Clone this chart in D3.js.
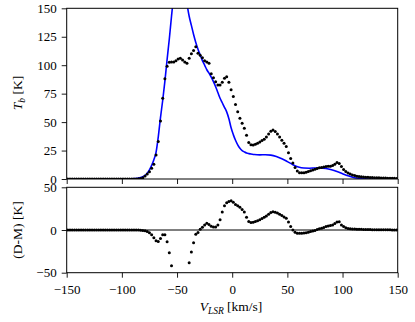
<!DOCTYPE html>
<html>
<head>
<meta charset="utf-8">
<script src="https://cdn.jsdelivr.net/npm/d3@7/dist/d3.min.js"></script>
<style>
  body { margin: 0; background: #fff; }
</style>
</head>
<body>
<div id="chart"></div>
<script>
// canais de velocidade (km/s)
const velocity = [
  -149,-147,-145,-143,-141,-139,-137,-135,-133,-131,
  -129,-127,-125,-123,-121,-119,-117,-115,-113,-111,
  -109,-107,-105,-103,-101,-99,-97,-95,-93,-91,
  -89,-87,-85,-83,-81,-79,-77,-75,-73,-71,
  -69,-67,-65,-63,-61,-59,-57,-55,-53,-51,
  -49,-47,-45,-43,-41,-39,-37,-35,-33,-31,
  -29,-27,-25,-23,-21,-19,-17,-15,-13,-11,
  -9,-7,-5,-3,-1,1,3,5,7,9,
  11,13,15,17,19,21,23,25,27,29,
  31,33,35,37,39,41,43,45,47,49,
  51,53,55,57,59,61,63,65,67,69,
  71,73,75,77,79,81,83,85,87,89,
  91,93,95,97,99,101,103,105,107,109,
  111,113,115,117,119,121,123,125,127,129,
  131,133,135,137,139,141,143,145,147,149
];

// temperatura de brilho observada (K)
const tbData = [
  0,0,0,0,0,0,0,0,0,0,
  0,0,0,0,0,0,0,0,0,0,
  0,0,0,0,0,0,0,0,0,0,
  0,0.1,0.2,0.4,1,2.6,4.5,6.4,9.5,13,
  21,33,51,71,88,99,102.5,102.8,102.8,104,
  105.5,106,104.5,102.8,101.7,106,110,113,116.2,110.4,
  108.8,106.5,104,102.8,101.7,92.5,89,85.5,82.5,82.5,
  85,88.5,89.8,85,78.5,72.5,65.5,59,53.3,49,
  44.5,38.5,32,30,29.9,30.5,31.5,32.5,33.8,35,
  37,39.5,42,43,41.8,39.5,37,34,31.5,28.5,
  23,18,14,10,7,5.6,5.4,5.5,5.9,6.5,
  7.2,7.9,8.5,9.2,9.8,10.2,10.6,10.9,11.1,11.3,
  11.8,13,14.5,13.6,11,8.3,6.6,5.3,4.3,3.6,
  3,2.5,2.1,1.9,1.7,1.6,1.5,1.4,1.3,1.2,
  1.1,1,0.9,0.8,0.8,0.7,0.7,0.6,0.6,0.5
];

// residuo dados - modelo (K)
const residual = [
  0,0,0,0,0,0,0,0,0,0,
  0,0,0,0,0,0,0,0,0,0,
  0,0,0,0,0,0,0,0,0,0,
  0,0,0,-0.2,-0.5,-0.9,-1.8,-3.2,-5.5,-9,
  -12.5,-13.5,-10,-5.5,-5.5,-13.7,-26.6,-42,-62,-72,
  -76,-75,-70,-62,-52,-38.3,-25.8,-15,-5,-3,
  0.8,3.2,5.8,7.8,6.5,4.5,3.5,3.4,6,12,
  21,28.5,32,33.3,34.3,32.5,30,28.5,26.5,24,
  21,15,10,8.8,9.2,10,10.9,12,13.5,14.8,
  16.5,18.5,20.5,21.4,20.8,19.8,18.5,17,15.3,13.7,
  9.5,4,0,-2.5,-3.9,-3.9,-3.9,-3.5,-3.1,-2.5,
  -1.8,-1.2,-0.5,0.5,1.4,2,3,4,4.7,5.3,
  5.9,7.5,9.3,9.7,6,4,2.5,1.7,1.4,1.2,
  1.1,1,0.9,0.8,0.7,0.6,0.5,0.5,0.4,0.4,
  0.3,0.3,0.3,0.2,0.2,0.2,0.2,0.1,0.1,0.1
];

// curva do modelo
const modelV = [-150,-110,-95,-88,-84,-81,-78,-75,-73,-71,-69,-67,-65,-63,-61,-59,-57,-55,-53,-51,-49,-47,-45,-43,-41,-39,-37,-35,-33,-31,-29,-27,-25,-23,-21,-19,-17,-15,-13,-11,-9,-7,-5,-3,-1,1,3,5,7,9,11,13,15,17,20,25,30,35,40,45,50,55,60,65,70,75,80,85,90,95,100,105,110,115,120,130,150];
const modelT = [0,0,0.1,0.4,1,2,4,8,12,17,23.5,37,54,69,86,105,123,143,161,174,181,182,177,167,154,143,135,127,120,114,109,104,100,96,93,89.5,85.5,81,76,71,67,63,59,53,45,39,34,30,27,25,23.8,22.8,22.3,22,21.5,21.2,21.3,21,19.8,17.8,15.3,12.6,10.5,9.6,9.5,9.7,9.8,9.3,8.1,6.5,4.6,2.8,1.4,0.6,0.2,0,0];

const xTicks = [-150,-100,-50,0,50,100,150];
const topYTicks = [0,25,50,75,100,125,150];
const botYTicks = [-50,0,50];

const W = 415, H = 322;
const left = 66.7, right = 397.7;
const top1 = 8.3, bot1 = 179;
const top2 = 187.3, bot2 = 272.7;
const serif = "Liberation Serif";

const svg = d3.select("#chart").append("svg")
    .attr("width", W).attr("height", H)
    .attr("font-family", serif);

const x = d3.scaleLinear().domain([-150,150]).range([left, right]);
const yTop = d3.scaleLinear().domain([0,150]).range([bot1, top1]);
const yBot = d3.scaleLinear().domain([-50,50]).range([bot2, top2]);

const defs = svg.append("defs");
defs.append("clipPath").attr("id","clip1").append("rect")
    .attr("x", left).attr("y", top1).attr("width", right-left).attr("height", bot1-top1);
defs.append("clipPath").attr("id","clip2").append("rect")
    .attr("x", left).attr("y", top2).attr("width", right-left).attr("height", bot2-top2);

const pts = velocity.map((v,i) => ({v: v, tb: tbData[i], r: residual[i]}));
const model = modelV.map((v,i) => ({v: v, t: modelT[i]}));

// painel de cima
const g1 = svg.append("g").attr("clip-path","url(#clip1)");
g1.append("path")
    .datum(model)
    .attr("fill","none")
    .attr("stroke","#0000ff")
    .attr("stroke-width",1.6)
    .attr("d", d3.line().x(d => x(d.v)).y(d => yTop(d.t)).curve(d3.curveMonotoneX));
g1.selectAll("circle").data(pts).join("circle")
    .attr("cx", d => x(d.v)).attr("cy", d => yTop(d.tb))
    .attr("r", 1.5).attr("fill","#000");

// painel de baixo
const g2 = svg.append("g").attr("clip-path","url(#clip2)");
g2.append("line")
    .attr("x1", left).attr("x2", right)
    .attr("y1", yBot(0)).attr("y2", yBot(0))
    .attr("stroke","#000").attr("stroke-width",1);
g2.selectAll("circle").data(pts).join("circle")
    .attr("cx", d => x(d.v)).attr("cy", d => yBot(d.r))
    .attr("r", 1.5).attr("fill","#000");

// eixos
function styleAxis(sel) {
    sel.attr("font-family", serif).attr("font-size", 13);
    sel.select(".domain").remove();
    sel.selectAll(".tick line").attr("stroke","#000").attr("stroke-width",0.9);
    sel.selectAll(".tick text").attr("fill","#000");
}

svg.append("g").attr("transform",`translate(0,${bot1})`)
    .call(d3.axisBottom(x).tickValues(xTicks).tickSize(5).tickFormat(""))
    .call(styleAxis);
svg.append("g").attr("transform",`translate(0,${bot2})`)
    .call(d3.axisBottom(x).tickValues(xTicks).tickSize(5).tickPadding(7))
    .call(styleAxis);
svg.append("g").attr("transform",`translate(${left},0)`)
    .call(d3.axisLeft(yTop).tickValues(topYTicks).tickSize(5).tickPadding(5))
    .call(styleAxis);
svg.append("g").attr("transform",`translate(${left},0)`)
    .call(d3.axisLeft(yBot).tickValues(botYTicks).tickSize(5).tickPadding(5))
    .call(styleAxis);

// molduras
[[top1,bot1],[top2,bot2]].forEach(([a,b]) => {
    svg.append("rect")
        .attr("x", left).attr("y", a)
        .attr("width", right-left).attr("height", b-a)
        .attr("fill","none").attr("stroke","#000").attr("stroke-width",1);
});

// titulos dos eixos
const yl1 = svg.append("text")
    .attr("transform","translate(22,93) rotate(-90)")
    .attr("text-anchor","middle").attr("font-size", 13.5);
yl1.append("tspan").attr("font-style","italic").text("T");
yl1.append("tspan").attr("font-style","italic").attr("font-size", 9.5).attr("dy","3").text("b");
yl1.append("tspan").attr("dy","-3").text(" [K]");

svg.append("text")
    .attr("transform","translate(22,230) rotate(-90)")
    .attr("text-anchor","middle").attr("font-size", 13.5)
    .text("(D-M) [K]");

const xl = svg.append("text")
    .attr("x", 231).attr("y", 311)
    .attr("text-anchor","middle").attr("font-size", 13.5);
xl.append("tspan").attr("font-style","italic").text("V");
xl.append("tspan").attr("font-style","italic").attr("font-size", 9.5).attr("dy","3").text("LSR");
xl.append("tspan").attr("dy","-3").text(" [km/s]");
</script>
</body>
</html>
